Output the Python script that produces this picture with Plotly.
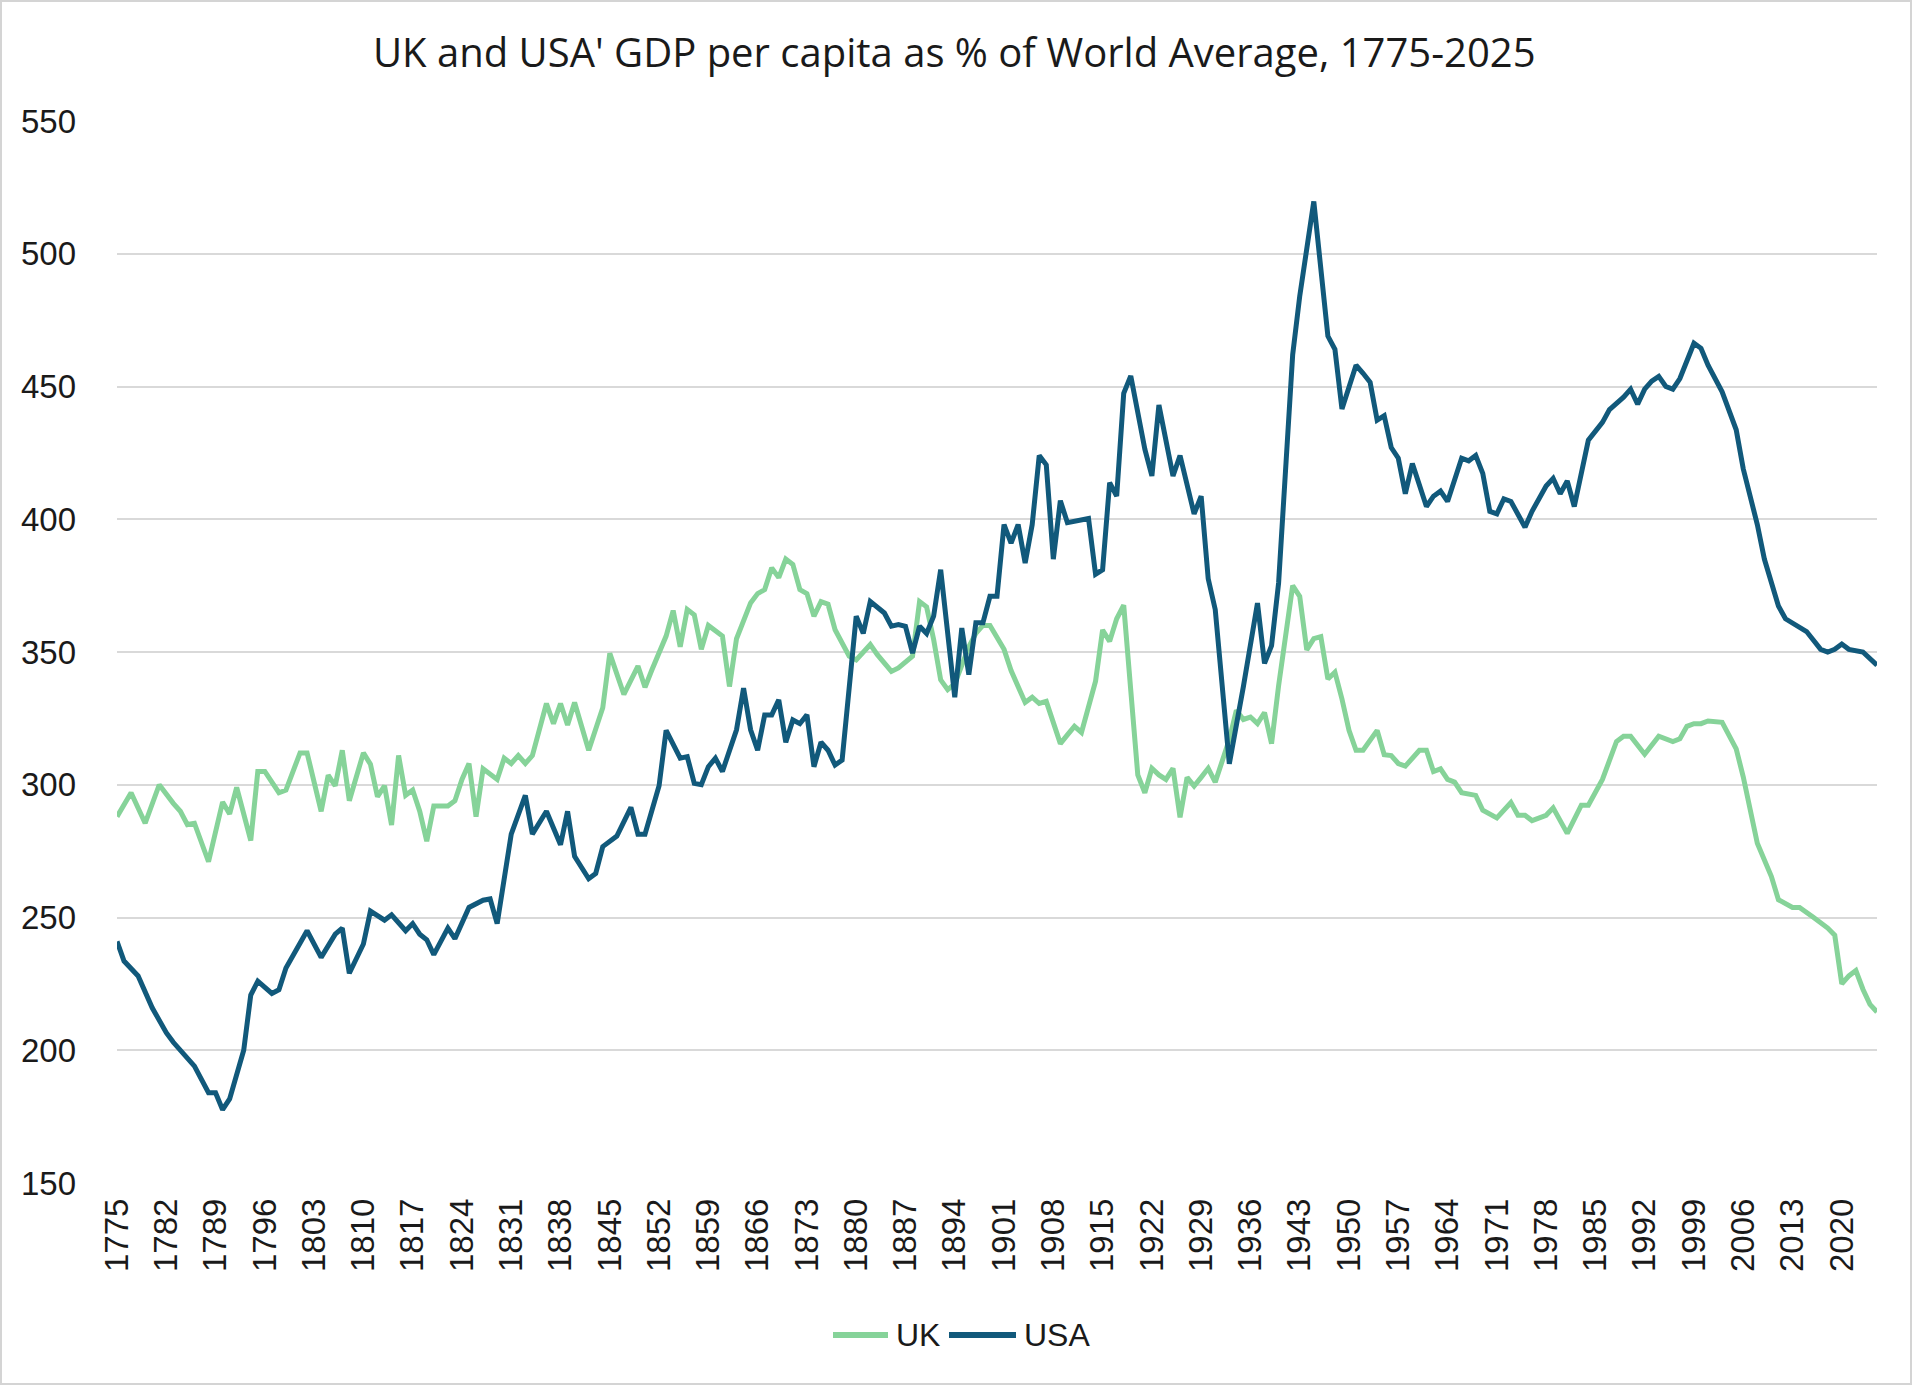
import plotly.graph_objects as go

# ---- Data ----
uk_years = [1775, 1777, 1779, 1781, 1783, 1784, 1785, 1786, 1788, 1790, 1791, 1792, 1794, 1795, 1796,
            1798, 1799, 1801, 1802, 1804, 1805, 1806, 1807, 1808, 1810, 1811, 1812, 1813, 1814, 1815,
            1816, 1817, 1818, 1819, 1820, 1822, 1823, 1824, 1825, 1826, 1827, 1829, 1830, 1831, 1832,
            1833, 1834, 1836, 1837, 1838, 1839, 1840, 1842, 1844, 1845, 1847, 1849, 1850, 1851, 1853,
            1854, 1855, 1856, 1857, 1858, 1859, 1860, 1861, 1862, 1863, 1865, 1866, 1867, 1868, 1869,
            1870, 1871, 1872, 1873, 1874, 1875, 1876, 1877, 1879, 1880, 1882, 1883, 1885, 1886, 1888,
            1889, 1890, 1891, 1892, 1893, 1894, 1895, 1896, 1897, 1898, 1899, 1901, 1902, 1904, 1905,
            1906, 1907, 1909, 1910, 1911, 1912, 1913, 1914, 1915, 1916, 1917, 1918, 1919, 1920, 1921,
            1922, 1923, 1924, 1925, 1926, 1927, 1928, 1929, 1930, 1931, 1933, 1934, 1935, 1936, 1937,
            1938, 1939, 1940, 1941, 1942, 1943, 1944, 1945, 1946, 1947, 1948, 1949, 1950, 1951, 1952,
            1954, 1955, 1956, 1957, 1958, 1959, 1960, 1961, 1962, 1963, 1964, 1965, 1966, 1968, 1969,
            1971, 1973, 1974, 1975, 1976, 1978, 1979, 1981, 1983, 1984, 1986, 1988, 1989, 1990, 1992,
            1994, 1996, 1997, 1998, 1999, 2000, 2001, 2003, 2005, 2006, 2007, 2008, 2010, 2011, 2013,
            2014, 2016, 2018, 2019, 2020, 2021, 2022, 2023, 2024, 2025]
uk_values = [288, 297, 285.5, 300, 293, 290, 285, 285.5, 271, 293.5, 289, 299, 279, 305, 305,
             297, 298, 312, 312, 290, 303.6, 299.6, 313, 294, 312, 307.7, 295.5, 299.6, 284.8, 311,
             296, 298, 290, 278.7, 292, 292, 294, 302, 308, 288, 306, 302, 310, 308, 311,
             308, 311, 330.6, 323, 330.6, 322.5, 331, 313, 329, 349.5, 334, 344.7, 336.7, 343.4, 356,
             365.6, 352, 366, 364, 351, 360, 358, 356, 337, 355, 368.5, 372, 373.5, 381.7, 378,
             385, 383, 373.5, 372, 363.5, 369, 368, 358.4, 348.4, 347, 352.8, 349, 342.7, 344, 348.4,
             369, 367, 354.7, 339.5, 335.8, 338, 345, 352, 357, 360, 360, 351, 343, 331, 333,
             330.6, 331.4, 315.5, 318.8, 322, 319.7, 329, 339, 358.3, 354, 362.5, 367.6, 335.6, 303.7, 297,
             306.2, 303.7, 302, 306.2, 287.7, 302.8, 299.5, 302.8, 306.2, 301, 317, 328, 324.6, 325.5, 323,
             327.2, 315.5, 337.3, 356.6, 375, 370.9, 350.8, 355, 355.8, 339.8, 342.4, 332.3, 320.5, 313, 313,
             320.5, 311.3, 311, 308, 307, 310, 313, 313, 305, 306, 302, 301, 297, 296, 290.4,
             287.5, 293.3, 288.5, 288.5, 286.5, 288.5, 291.3, 281.7, 292.3, 292.3, 302, 316.3, 318.3, 318.3, 311.5,
             318.3, 316.3, 317.3, 322, 323, 323, 324, 323.5, 313.5, 303, 291.3, 278, 265.4, 256.7, 253.8,
             253.8, 250, 246, 243.3, 225, 228, 230, 223, 217.3, 214.4]

usa_years = [1775, 1776, 1778, 1780, 1782, 1783, 1786, 1788, 1789, 1790, 1791, 1793, 1794, 1795, 1797,
             1798, 1799, 1801, 1802, 1804, 1806, 1807, 1808, 1810, 1811, 1813, 1814, 1816, 1817, 1818,
             1819, 1820, 1822, 1823, 1825, 1827, 1828, 1829, 1831, 1833, 1834, 1836, 1838, 1839, 1840,
             1842, 1843, 1844, 1846, 1848, 1849, 1850, 1852, 1853, 1854, 1855, 1856, 1857, 1858, 1859,
             1860, 1861, 1863, 1864, 1865, 1866, 1867, 1868, 1869, 1870, 1871, 1872, 1873, 1874, 1875,
             1876, 1877, 1878, 1880, 1881, 1882, 1884, 1885, 1886, 1887, 1888, 1889, 1890, 1891, 1892,
             1894, 1895, 1896, 1897, 1898, 1899, 1900, 1901, 1902, 1903, 1904, 1905, 1906, 1907, 1908,
             1909, 1910, 1912, 1913, 1914, 1915, 1916, 1917, 1918, 1919, 1921, 1922, 1923, 1925, 1926,
             1928, 1929, 1930, 1931, 1933, 1935, 1937, 1938, 1939, 1940, 1942, 1943, 1945, 1947, 1948,
             1949, 1951, 1952, 1953, 1954, 1955, 1956, 1957, 1958, 1959, 1961, 1962, 1963, 1964, 1966,
             1967, 1968, 1969, 1970, 1971, 1972, 1973, 1975, 1976, 1978, 1979, 1980, 1981, 1982, 1983,
             1984, 1986, 1987, 1989, 1990, 1991, 1992, 1993, 1994, 1995, 1996, 1997, 1999, 2000, 2001,
             2003, 2005, 2006, 2008, 2009, 2011, 2012, 2014, 2015, 2017, 2018, 2019, 2020, 2021, 2023,
             2025]
usa_values = [241, 233.6, 228, 216, 206.6, 203, 194, 184, 184, 177.6, 181.7, 200, 220.8, 226, 221.4,
              222.8, 231, 240, 245, 235, 243.7, 246, 229, 240, 252.4, 249, 251, 245, 247.7, 243.7,
              241.6, 236, 246, 242, 253.8, 256.5, 257, 247.7, 281.4, 296, 281.4, 290, 277.4, 290, 273,
              264.6, 266.6, 276.7, 280.7, 291.5, 281.4, 281.4, 299.6, 320.5, 315, 310, 310.6, 300.5, 300, 306.8,
              310, 305, 320.7, 336.4, 320.7, 313, 326.3, 326.3, 332, 316, 324.4, 323, 326.3, 306.8, 316,
              313, 307.4, 309.3, 363.5, 357, 369, 364.7, 359.7, 360.3, 359.7, 349.6, 359.7, 357, 363.5, 381,
              333, 359, 341.5, 361, 361, 371, 371, 398, 391, 398, 383.5, 398, 424, 420.5, 385,
              407, 398.7, 399.5, 400.3, 379.3, 381, 413.8, 408.7, 447.4, 454, 426.4, 416.3, 443, 416.3, 424,
              402, 408.7, 377.6, 366, 307.9, 337, 368.4, 345.7, 352.4, 376, 462, 484, 519.7, 469, 464,
              441.5, 458, 455, 451.6, 437.3, 439, 427, 423, 409.6, 421, 404.8, 408.7, 410.6, 406.7, 423,
              422, 424, 417.3, 403, 402, 407.7, 406.7, 397, 403, 412.5, 415.4, 409.6, 414.4, 404.8, 418.3,
              429.8, 436.5, 441.3, 446, 449, 443.3, 449, 452, 453.8, 450, 449, 453, 466.3, 464.4, 458,
              448, 433.7, 419, 398, 385, 367.3, 362.5, 359.6, 357.7, 351, 350, 351, 353, 351, 350,
              345]

x_tick_years = list(range(1775, 2021, 7))
y_tick_values = [150, 200, 250, 300, 350, 400, 450, 500, 550]
series_names = ["UK", "USA"]

title_text = "UK and USA' GDP per capita as % of World Average, 1775-2025"

UK_COLOR = "#86d399"
USA_COLOR = "#11597b"
colors = [UK_COLOR, USA_COLOR]

fig = go.Figure()
fig.add_trace(go.Scatter(x=uk_years, y=uk_values, mode="lines", name=series_names[0],
                         line=dict(color=UK_COLOR, width=5)))
fig.add_trace(go.Scatter(x=usa_years, y=usa_values, mode="lines", name=series_names[1],
                         line=dict(color=USA_COLOR, width=5)))

tick_font = dict(family="Liberation Sans, Arial, sans-serif", size=33, color="#1a1a1a")

# plot-area geometry in pixels (for the hand-placed legend)
PL, PR, PT, PB = 117, 1877, 121, 1183
PW, PH = PR - PL, PB - PT


def px_x(x):
    return (x - PL) / PW


def px_y(y):
    return (PB - y) / PH


legend_y = px_y(1335)
legend_items = [(833, 888, 894), (949, 1016, 1022)]  # line start, line end, text start (px)
shapes = [dict(type="rect", xref="paper", yref="paper",
               x0=px_x(1), x1=px_x(1911), y0=px_y(1384), y1=px_y(1),
               line=dict(color="#d4d4d4", width=2), fillcolor="rgba(0,0,0,0)", layer="below")]
annotations = []
for name, col, (l0, l1, t0) in zip(series_names, colors, legend_items):
    shapes.append(dict(type="line", xref="paper", yref="paper",
                       x0=px_x(l0), x1=px_x(l1), y0=legend_y, y1=legend_y,
                       line=dict(color=col, width=6)))
    annotations.append(dict(text=name, xref="paper", yref="paper", x=px_x(t0), y=legend_y,
                            xanchor="left", yanchor="middle", showarrow=False,
                            font=dict(family="Liberation Sans, Arial, sans-serif", size=32,
                                      color="#1a1a1a")))

fig.update_layout(
    width=1920, height=1392,
    paper_bgcolor="white", plot_bgcolor="white",
    margin=dict(l=PL, r=1920 - PR, t=PT, b=1392 - PB),
    title=dict(text=title_text, x=0.497, xref="container", xanchor="center",
               y=1 - 53 / 1392, yref="container", yanchor="middle",
               font=dict(family="Open Sans, Liberation Sans, sans-serif", size=40, color="#1a1a1a")),
    xaxis=dict(range=[1775, 2025], tickmode="array", tickvals=x_tick_years,
               ticktext=[str(y) for y in x_tick_years], tickangle=-90,
               showgrid=False, zeroline=False, showline=False, ticks="",
               tickfont=tick_font, ticklabelstandoff=8),
    yaxis=dict(range=[150, 550], tickmode="array", tickvals=y_tick_values,
               showgrid=True, gridcolor="#d9d9d9", gridwidth=1.6, zeroline=False,
               showline=False, ticks="", tickfont=tick_font, ticklabelstandoff=40),
    showlegend=False,
    shapes=shapes,
    annotations=annotations,
)

fig.write_html("out.html")
